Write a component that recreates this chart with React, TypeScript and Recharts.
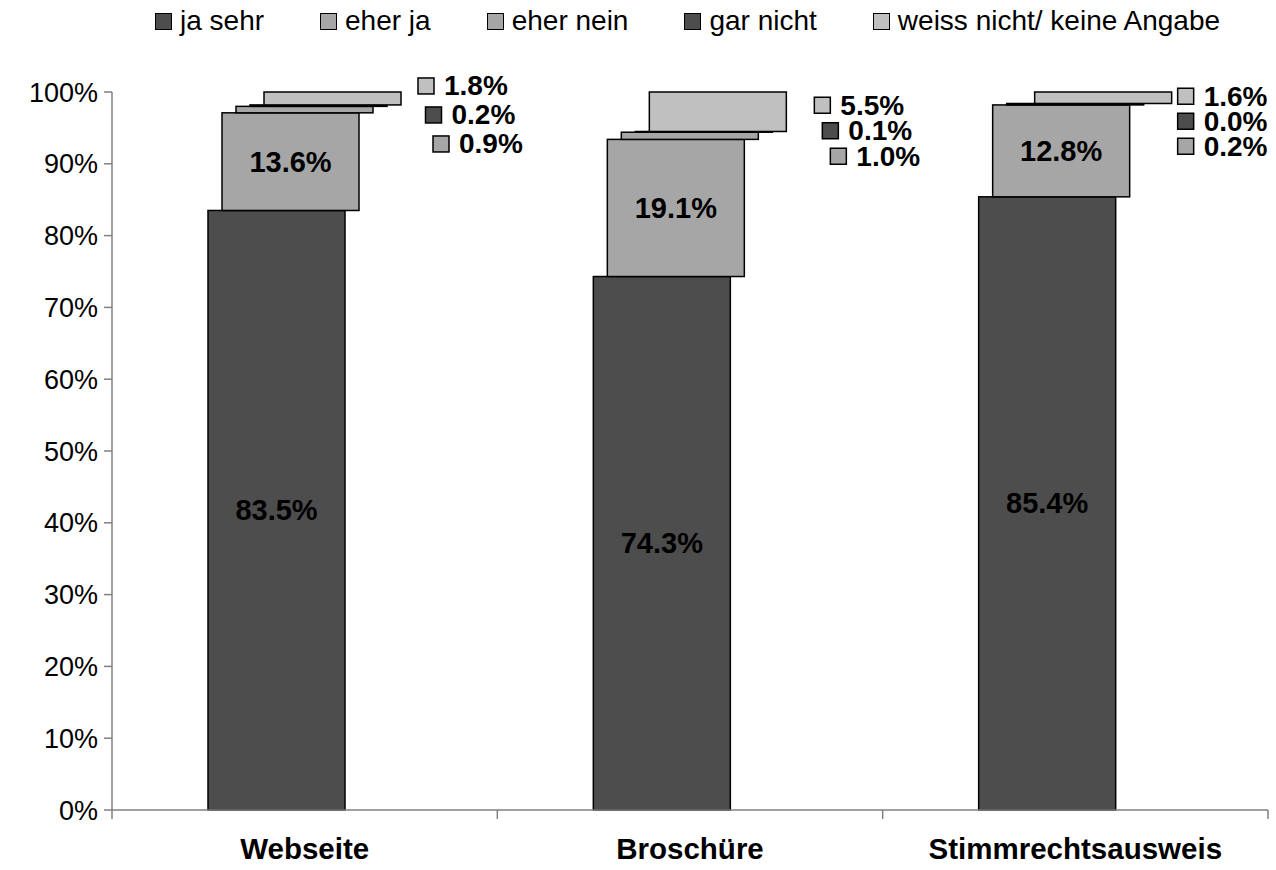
import React from 'react';
import { BarChart, Bar, XAxis, YAxis, LabelList } from 'recharts';

const categories = ['Webseite', 'Broschüre', 'Stimmrechtsausweis'];
const jaSehr = [83.5, 74.3, 85.4];
const eherJa = [13.6, 19.1, 12.8];
const eherNein = [0.9, 1.0, 0.2];
const garNicht = [0.2, 0.1, 0.0];
const weissNicht = [1.8, 5.5, 1.6];
const yTicks = [0, 10, 20, 30, 40, 50, 60, 70, 80, 90, 100];

const data = categories.map((name, i) => ({
  name,
  jaSehr: jaSehr[i],
  eherJa: eherJa[i],
  eherNein: eherNein[i],
  garNicht: garNicht[i],
  weissNicht: weissNicht[i],
}));

const DARK = '#4d4d4d';
const MID = '#a6a6a6';
const LIGHT = '#c0c0c0';

const series = [
  { key: 'jaSehr', name: 'ja sehr', color: DARK },
  { key: 'eherJa', name: 'eher ja', color: MID },
  { key: 'eherNein', name: 'eher nein', color: MID },
  { key: 'garNicht', name: 'gar nicht', color: DARK },
  { key: 'weissNicht', name: 'weiss nicht/ keine Angabe', color: LIGHT },
];

const W = 1276;
const H = 870;
const PLOT_LEFT = 112;
const PLOT_RIGHT = 1268;
const STEP = 14; // sideways shift of each stacked series
const FONT = '"Liberation Sans", Arial, sans-serif';

// hand-placed side labels, nudged per category like the original
const sideLayout = [
  { dx: 0, dy: -12.5, stagger: 7.5, rowGap: 29 },
  { dx: 11, dy: -6.5, stagger: 8, rowGap: 25.5 },
  { dx: -11, dy: -1.5, stagger: 0, rowGap: 25 },
];

const fmt = (v: number) => `${v.toFixed(1)}%`;

const shiftedShape = (offset: number, color: string) => (props: any) => {
  const { x, y, width, height } = props;
  if (x == null || y == null) return null;
  return (
    <rect
      x={x + offset}
      y={y}
      width={width}
      height={Math.max(height, 0)}
      fill={color}
      stroke="#000"
      strokeWidth={1.5}
    />
  );
};

const centerLabel = (offset: number) => (props: any) => {
  const { x, y, width, height, value } = props;
  return (
    <text
      x={x + offset + width / 2}
      y={y + height / 2}
      textAnchor="middle"
      dominantBaseline="central"
      fontFamily={FONT}
      fontWeight="bold"
      fontSize={29}
      fill="#000"
    >
      {fmt(value)}
    </text>
  );
};

// small values shown right of the stack, with a legend key each
const sideLabels = (props: any) => {
  const { x, y, width, height, index } = props;
  const lay = sideLayout[index];
  const rows = [
    { v: weissNicht[index], c: LIGHT },
    { v: garNicht[index], c: DARK },
    { v: eherNein[index], c: MID },
  ];
  const left = x + 2 * STEP + width + 17 + lay.dx;
  const top = y + height / 2 + lay.dy;
  return (
    <g>
      {rows.map((r, k) => (
        <g key={k}>
          <rect
            x={left + k * lay.stagger}
            y={top + k * lay.rowGap - 8}
            width={16}
            height={16}
            fill={r.c}
            stroke="#000"
            strokeWidth={1.5}
          />
          <text
            x={left + k * lay.stagger + 26}
            y={top + k * lay.rowGap}
            dominantBaseline="central"
            fontFamily={FONT}
            fontWeight="bold"
            fontSize={28}
            fill="#000"
          >
            {fmt(r.v)}
          </text>
        </g>
      ))}
    </g>
  );
};

const CategoryTick = (props: any) => {
  const { x, y, payload, index } = props;
  const band = (PLOT_RIGHT - PLOT_LEFT) / categories.length;
  return (
    <g>
      <line x1={x - band / 2} y1={y} x2={x - band / 2} y2={y + 9} stroke="#808080" strokeWidth={1.5} />
      {index === categories.length - 1 && (
        <line x1={x + band / 2} y1={y} x2={x + band / 2} y2={y + 9} stroke="#808080" strokeWidth={1.5} />
      )}
      <text x={x} y={y + 49} textAnchor="middle" fontFamily={FONT} fontWeight="bold" fontSize={29.5} fill="#000">
        {payload.value}
      </text>
    </g>
  );
};

const LegendRow = () => (
  <div
    style={{
      position: 'absolute',
      top: 5,
      left: 155,
      display: 'flex',
      gap: 56,
      fontFamily: FONT,
      fontSize: 28,
      lineHeight: '32px',
      color: '#000',
      whiteSpace: 'nowrap',
    }}
  >
    {series.map((s) => (
      <div key={s.key} style={{ display: 'flex', alignItems: 'center' }}>
        <span
          style={{
            display: 'inline-block',
            boxSizing: 'border-box',
            width: 17,
            height: 17,
            background: s.color,
            border: '1.5px solid #000',
            marginRight: 8,
          }}
        />
        <span>{s.name}</span>
      </div>
    ))}
  </div>
);

export default function App() {
  return (
    <div style={{ position: 'absolute', left: 0, top: 0, width: W, height: H, background: '#fff' }}>
      <LegendRow />
      <BarChart
        width={W}
        height={H}
        data={data}
        margin={{ top: 92, right: W - PLOT_RIGHT, bottom: 0, left: 0 }}
        barSize={137}
      >
        <YAxis
          width={PLOT_LEFT}
          domain={[0, 100]}
          ticks={yTicks}
          interval={0}
          tickFormatter={(v) => `${v}%`}
          tick={{ fill: '#000', fontSize: 27, fontFamily: FONT }}
          tickSize={8}
          tickMargin={6}
          axisLine={{ stroke: '#808080', strokeWidth: 1.5 }}
          tickLine={{ stroke: '#808080', strokeWidth: 1.5 }}
        />
        <XAxis
          dataKey="name"
          height={H - 810}
          tick={<CategoryTick />}
          tickLine={false}
          tickSize={0}
          tickMargin={0}
          interval={0}
          axisLine={{ stroke: '#808080', strokeWidth: 1.5 }}
        />
        {series.map((s, i) => (
          <Bar
            key={s.key}
            dataKey={s.key}
            name={s.name}
            stackId="a"
            fill={s.color}
            isAnimationActive={false}
            minPointSize={0}
            shape={shiftedShape((i - 2) * STEP, s.color)}
          >
            {i < 2 && <LabelList dataKey={s.key} content={centerLabel((i - 2) * STEP)} />}
            {i === 4 && <LabelList dataKey={s.key} content={sideLabels} />}
          </Bar>
        ))}
      </BarChart>
    </div>
  );
}
